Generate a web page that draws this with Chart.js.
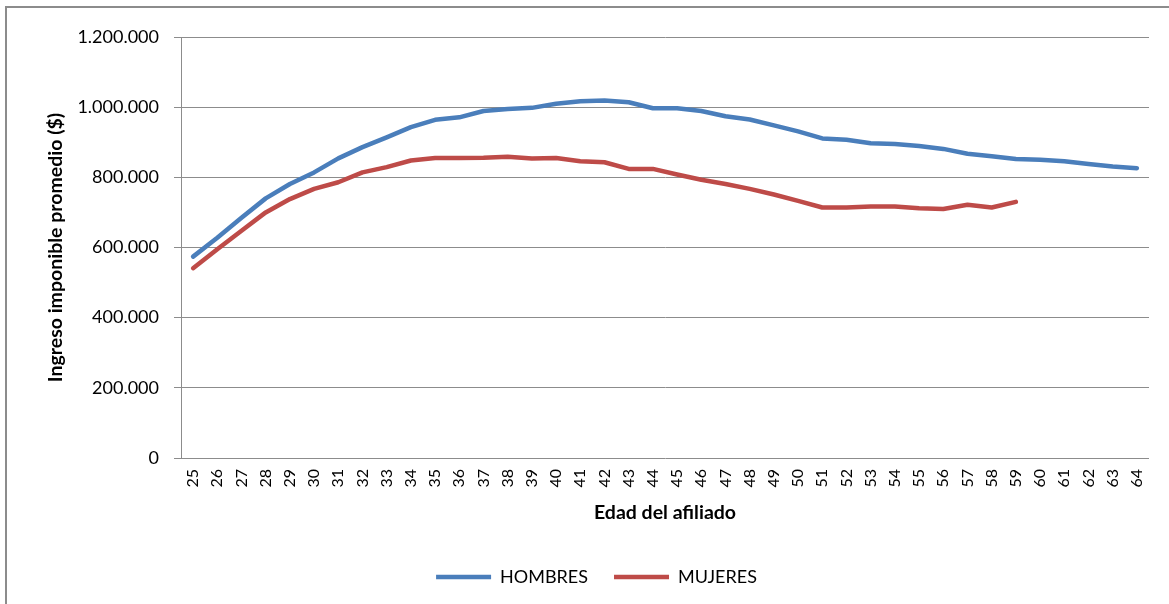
<!DOCTYPE html>
<html lang="es">
<head>
    <meta charset="UTF-8">
    <title>Ingreso imponible promedio por edad</title>
    <style>
        body {
            margin: 0;
            background-color: #ffffff;
        }
        .wrap {
            position: relative;
            width: 1169px;
            height: 604px;
            overflow: hidden;
        }
        .frame {
            position: absolute;
            left: 5px;
            top: 6px;
            width: 1200px;
            height: 700px;
            border-left: 2px solid #8c8c8c;
            border-top: 2px solid #8c8c8c;
        }
        #chart {
            position: absolute;
            left: 0;
            top: 0;
        }
    </style>
    <script src="https://cdn.jsdelivr.net/npm/chart.js"></script>
</head>
<body>
    <div class="wrap">
        <div class="frame"></div>
        <canvas id="chart" width="1169" height="604"></canvas>
    </div>
    <script>
        const edades = ['25', '26', '27', '28', '29', '30', '31', '32', '33', '34',
                        '35', '36', '37', '38', '39', '40', '41', '42', '43', '44',
                        '45', '46', '47', '48', '49', '50', '51', '52', '53', '54',
                        '55', '56', '57', '58', '59', '60', '61', '62', '63', '64'];

        const hombres = [574000, 628000, 685000, 740000, 781000, 814000, 854000, 886000, 914000, 943000,
                         964000, 971000, 989000, 995000, 998000, 1010000, 1017000, 1019000, 1014000, 997000,
                         997000, 989000, 974000, 965000, 948000, 931000, 911000, 907000, 897000, 895000,
                         889000, 881000, 867000, 860000, 852000, 850000, 846000, 838000, 831000, 826000];

        // no hay datos de mujeres despues de los 59
        const mujeres = [541000, 595000, 648000, 700000, 738000, 767000, 786000, 814000, 829000, 848000,
                         855000, 855000, 856000, 859000, 854000, 855000, 846000, 843000, 824000, 824000,
                         808000, 793000, 781000, 767000, 751000, 733000, 714000, 714000, 717000, 717000,
                         712000, 710000, 722000, 714000, 730000, null, null, null, null, null];

        const yTicks = [0, 200000, 400000, 600000, 800000, 1000000, 1200000];

        const gris = '#8c8c8c';
        const fuente = 'Lato';

        function conPuntos(v) {
            return String(v).replace(/\B(?=(\d{3})+(?!\d))/g, '.');
        }

        const config = {
            type: 'line',
            data: {
                labels: edades,
                datasets: [{
                    label: 'HOMBRES',
                    data: hombres,
                    borderColor: '#4a7ebb',
                    backgroundColor: '#4a7ebb',
                    borderWidth: 4.5,
                    borderJoinStyle: 'round',
                    borderCapStyle: 'round',
                    pointRadius: 0,
                    tension: 0
                }, {
                    label: 'MUJERES',
                    data: mujeres,
                    borderColor: '#be4b48',
                    backgroundColor: '#be4b48',
                    borderWidth: 4.5,
                    borderJoinStyle: 'round',
                    borderCapStyle: 'round',
                    pointRadius: 0,
                    tension: 0
                }]
            },
            options: {
                responsive: false,
                animation: false,
                layout: {
                    padding: { left: 44, right: 20, top: 37, bottom: 8 }
                },
                plugins: {
                    title: { display: false },
                    tooltip: { enabled: false },
                    legend: {
                        position: 'bottom',
                        labels: {
                            usePointStyle: true,
                            pointStyle: 'line',
                            pointStyleWidth: 55,
                            padding: 26,
                            color: '#000',
                            font: { family: fuente, size: 18 }
                        }
                    }
                },
                scales: {
                    x: {
                        offset: true,
                        grid: { display: false, drawTicks: false },
                        border: { display: false },
                        ticks: {
                            autoSkip: false,
                            minRotation: 90,
                            maxRotation: 90,
                            padding: 11,
                            color: '#000',
                            font: { family: fuente, size: 16 }
                        },
                        title: {
                            display: true,
                            text: 'Edad del afiliado',
                            color: '#000',
                            font: { family: fuente, size: 19.5, weight: 'bold' },
                            padding: { top: 4, bottom: 18 }
                        },
                        afterFit: scale => { scale.height = 84; }
                    },
                    y: {
                        min: 0,
                        max: 1200000,
                        afterBuildTicks: scale => {
                            scale.ticks = yTicks.map(v => ({ value: v }));
                        },
                        grid: { color: gris, lineWidth: 1, tickLength: 7 },
                        border: { color: gris, width: 1 },
                        ticks: {
                            padding: 15,
                            color: '#000',
                            font: { family: fuente, size: 18 },
                            callback: v => conPuntos(v)
                        },
                        title: {
                            display: true,
                            text: 'Ingreso imponible promedio ($)',
                            color: '#000',
                            font: { family: fuente, size: 19.5, weight: 'bold' },
                            padding: { top: 0, bottom: 4 }
                        },
                        afterFit: scale => { scale.width = 137; }
                    }
                }
            }
        };

        new Chart(document.getElementById('chart'), config);
    </script>
</body>
</html>
